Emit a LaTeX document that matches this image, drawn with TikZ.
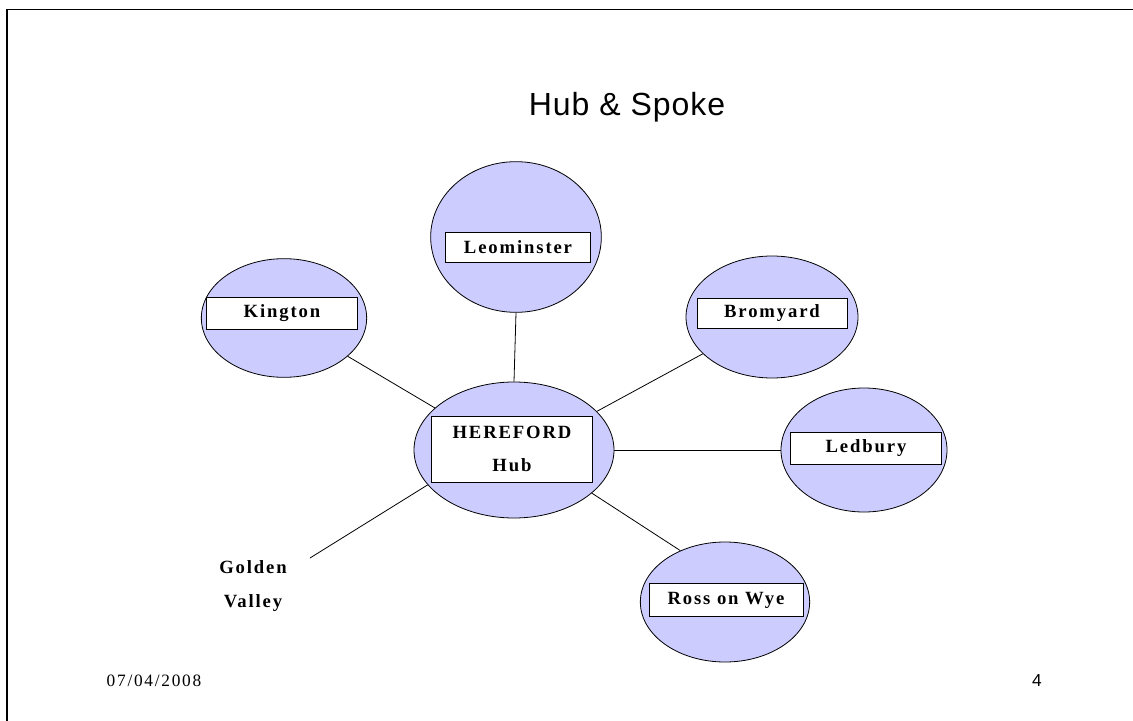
\documentclass[tikz,border=0pt]{standalone}
\usepackage{fontspec}
\setmainfont{Liberation Serif}
\newfontfamily\titlefont[LetterSpace=3]{Liberation Sans}
\newfontfamily\spacedfont[LetterSpace=10]{Liberation Serif}
\newfontfamily\datefont[LetterSpace=10]{Liberation Serif}
\newfontfamily\pagefont{Liberation Sans}
\usepackage{tikz}
\usetikzlibrary{shapes,positioning}
\definecolor{spokefill}{RGB}{204,204,255}

\begin{document}
\begin{tikzpicture}[x=0.75pt,y=-0.75pt,
	town/.style={ellipse,draw,fill=spokefill,line width=0.6pt,inner sep=0pt},
	namebox/.style={draw,fill=white,line width=0.6pt,inner sep=0pt,align=center,
		font=\spacedfont\bfseries\fontsize{14}{16}\selectfont},
	spoke/.style={line width=0.6pt}]
	
	\useasboundingbox (0,0) rectangle (1133,721);
	\draw[line width=1.5pt] (7,721) -- (7,9.5);
	\draw[line width=0.75pt] (6.3,9.5) -- (1133,9.5);
	
	\node (title) at (627,107) {\titlefont\fontsize{24}{28}\selectfont Hub \& Spoke};
	
	% the towns round the hub
	\node[town,minimum width=150pt,minimum height=102pt] (hub) at (514,450) {};
	\node[town,minimum width=128pt,minimum height=113pt] (leominster) at (516,237) {};
	\node[town,minimum width=124pt,minimum height=89pt] (kington) at (284,318) {};
	\node[town,minimum width=129pt,minimum height=91.5pt] (bromyard) at (772,317) {};
	\node[town,minimum width=124.5pt,minimum height=93pt] (ledbury) at (864,450) {};
	\node[town,minimum width=127pt,minimum height=90pt] (ross) at (725,602) {};
	\coordinate (golden-end) at (310,558);
	
	\draw[spoke] (hub.90) -- (leominster.-90);
	\draw[spoke] (hub.152) -- (kington.-31);
	\draw[spoke] (hub.25) -- (bromyard.-152);
	\draw[spoke] (hub) -- (ledbury);
	\draw[spoke] (hub.-29) -- (ross.131);
	\draw[spoke] (hub.202) -- (golden-end);
	
	% name boxes
	\node[namebox,minimum width=120.75pt,minimum height=49.5pt] (hub-box) at (512,449) {HEREFORD\\[9pt]Hub};
	\node[namebox,minimum width=108.75pt,minimum height=22.5pt] (leominster-box) at (518,247) {Leominster};
	\node[namebox,minimum width=113.25pt,minimum height=24pt] (kington-box) at (282,313) {Kington};
	\node[namebox,minimum width=112.5pt,minimum height=22.5pt] (bromyard-box) at (772,313) {Bromyard};
	\node[namebox,minimum width=113.25pt,minimum height=24pt] (ledbury-box) at (866,448) {Ledbury};
	\node[namebox,minimum width=115.5pt,minimum height=24.75pt] (ross-box) at (726,600) {Ross on Wye};
	\node[align=center,font=\spacedfont\bfseries\fontsize{14}{16}\selectfont] (golden) at (253,586) {Golden\\[10pt]Valley};
	
	\node[font=\datefont\fontsize{13}{16}\selectfont] (date) at (154,681) {07/04/2008};
	\node[font=\pagefont\fontsize{13}{16}\selectfont] (page) at (1037,681) {4};
\end{tikzpicture}
\end{document}
